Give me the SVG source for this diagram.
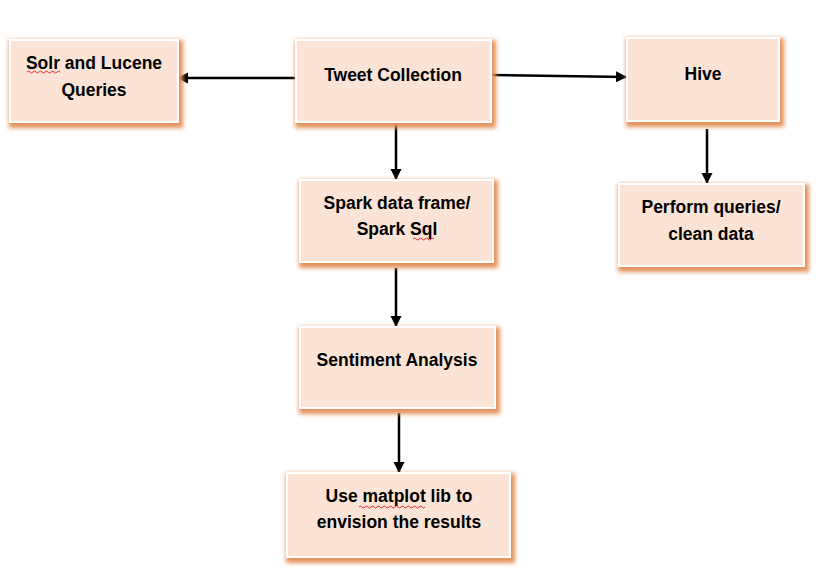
<svg xmlns="http://www.w3.org/2000/svg" width="838" height="578" viewBox="0 0 838 578">
  <defs>
    <filter id="glow" x="-20%" y="-30%" width="140%" height="160%">
      <feFlood flood-color="#E3925A" result="c"/>
      <feComposite in="c" in2="SourceAlpha" operator="in" result="s"/>
      <feMorphology in="s" operator="dilate" radius="1.5" result="d"/>
      <feGaussianBlur in="d" stdDeviation="2.2" result="b"/>
      <feOffset in="b" dx="2" dy="3" result="o"/>
      <feMerge>
        <feMergeNode in="o"/>
        <feMergeNode in="SourceGraphic"/>
      </feMerge>
    </filter>
    <marker id="arrow" markerWidth="12" markerHeight="12" refX="11" refY="5.5" orient="auto" markerUnits="userSpaceOnUse">
      <path d="M0,0 L11,5.5 L0,11 Z" fill="#000"/>
    </marker>
  </defs>
  <style>
    .box { fill: #FBE4D5; stroke: #FFFFFF; stroke-width: 2; filter: url(#glow); }
    .label { font-family: "Liberation Sans", Arial, sans-serif; font-weight: bold; font-size: 17.5px; fill: #000; text-anchor: middle; }
    .conn { stroke: #000; stroke-width: 2.5; fill: none; marker-end: url(#arrow); }
    .squiggle { stroke: #E03030; stroke-width: 1; fill: none; }
  </style>
  <rect width="838" height="578" fill="#FFFFFF"/>

  <g id="connectors">
    <line class="conn" x1="296" y1="78" x2="177" y2="78"/>
    <line class="conn" x1="491" y1="75" x2="627" y2="77"/>
    <line class="conn" x1="396" y1="124" x2="396" y2="180"/>
    <line class="conn" x1="707" y1="129" x2="707" y2="184"/>
    <line class="conn" x1="396" y1="268" x2="396" y2="327"/>
    <line class="conn" x1="399" y1="413" x2="399" y2="473"/>
  </g>

  <g id="solr">
    <rect class="box" x="10" y="40" width="168" height="82"/>
    <text class="label" x="94" y="69">Solr and Lucene</text>
    <text class="label" x="94" y="96">Queries</text>
    <path class="squiggle" d="M27,72 q1.5,-2 3,0 t3,0 t3,0 t3,0 t3,0 t3,0 t3,0 t3,0 t3,0 t3,0 t3,0"/>
  </g>

  <g id="tweet">
    <rect class="box" x="296" y="40" width="195" height="82"/>
    <text class="label" x="393" y="81">Tweet Collection</text>
  </g>

  <g id="hive">
    <rect class="box" x="627" y="38" width="152" height="83"/>
    <text class="label" x="703" y="80">Hive</text>
  </g>

  <g id="perform">
    <rect class="box" x="619" y="184" width="185" height="82"/>
    <text class="label" x="711" y="213">Perform queries/</text>
    <text class="label" x="711" y="240">clean data</text>
  </g>

  <g id="spark">
    <rect class="box" x="300" y="180" width="193" height="82"/>
    <text class="label" x="397" y="209">Spark data frame/</text>
    <text class="label" x="397" y="235">Spark Sql</text>
    <path class="squiggle" d="M413,239 q1.5,-2 3,0 t3,0 t3,0 t3,0 t3,0 t3,0 t3,0"/>
  </g>

  <g id="sentiment">
    <rect class="box" x="300" y="327" width="195" height="81"/>
    <text class="label" x="397" y="366">Sentiment Analysis</text>
  </g>

  <g id="matplot">
    <rect class="box" x="287" y="473" width="223" height="84"/>
    <text class="label" x="399" y="502">Use matplot lib to</text>
    <text class="label" x="399" y="528">envision the results</text>
    <path class="squiggle" d="M359,507 q1.5,-2 3,0 t3,0 t3,0 t3,0 t3,0 t3,0 t3,0 t3,0 t3,0 t3,0 t3,0 t3,0 t3,0 t3,0 t3,0 t3,0 t3,0 t3,0 t3,0 t3,0 t3,0 t3,0"/>
  </g>
</svg>
